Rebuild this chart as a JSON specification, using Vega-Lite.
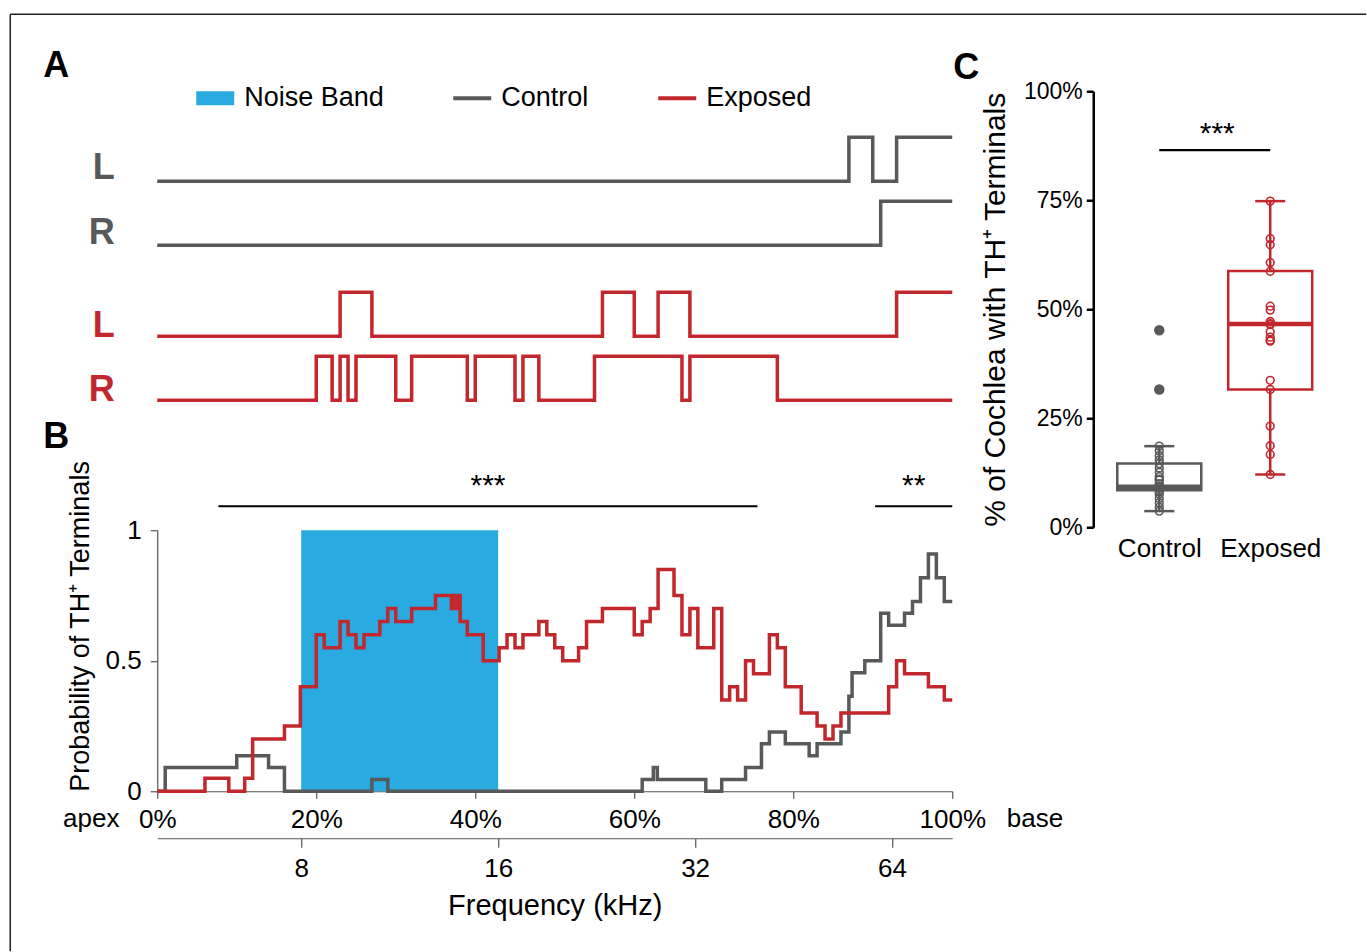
{
  "$schema": "https://vega.github.io/schema/vega-lite/v6.json",
  "background": "white",
  "padding": {"left": 9.25, "top": 13.25, "right": 0, "bottom": 0},
  "bounds": "flush",
  "columns": 2,
  "spacing": {"row": 3, "column": 141},
  "config": {
    "view": {"stroke": null},
    "font": "Liberation Sans",
    "title": {"font": "Liberation Sans", "fontSize": 36, "fontWeight": "bold", "anchor": "start", "frame": "group", "baseline": "alphabetic", "color": "#000"},
    "axis": {"grid": false, "labelColor": "#000", "titleColor": "#000", "titleFontWeight": "normal", "labelFont": "Liberation Sans", "titleFont": "Liberation Sans", "labelFlush": false},
    "legend": {"orient": "none", "legendX": 39, "legendY": -12, "direction": "horizontal", "labelFont": "Liberation Sans", "labelFontSize": 27, "labelColor": "#000", "labelOffset": 10, "symbolSize": 1444, "columnPadding": 69, "symbolStrokeWidth": 0, "symbolOpacity": 1},
    "text": {"font": "Liberation Sans"}
  },
  "concat": [
    {
      "width": 795,
      "height": 319,
      "title": {"text": "A", "dx": -114, "offset": 8, "dy": 2},
      "data": {"values": [
        {"group": "Control", "ear": "L", "pos": 0, "on": 0},
        {"group": "Control", "ear": "L", "pos": 87, "on": 1},
        {"group": "Control", "ear": "L", "pos": 90, "on": 0},
        {"group": "Control", "ear": "L", "pos": 93, "on": 1},
        {"group": "Control", "ear": "L", "pos": 100, "on": 1},
        {"group": "Control", "ear": "R", "pos": 0, "on": 0},
        {"group": "Control", "ear": "R", "pos": 91, "on": 1},
        {"group": "Control", "ear": "R", "pos": 100, "on": 1},
        {"group": "Exposed", "ear": "L", "pos": 0, "on": 0},
        {"group": "Exposed", "ear": "L", "pos": 23, "on": 1},
        {"group": "Exposed", "ear": "L", "pos": 27, "on": 0},
        {"group": "Exposed", "ear": "L", "pos": 56, "on": 1},
        {"group": "Exposed", "ear": "L", "pos": 60, "on": 0},
        {"group": "Exposed", "ear": "L", "pos": 63, "on": 1},
        {"group": "Exposed", "ear": "L", "pos": 67, "on": 0},
        {"group": "Exposed", "ear": "L", "pos": 93, "on": 1},
        {"group": "Exposed", "ear": "L", "pos": 100, "on": 1},
        {"group": "Exposed", "ear": "R", "pos": 0, "on": 0},
        {"group": "Exposed", "ear": "R", "pos": 20, "on": 1},
        {"group": "Exposed", "ear": "R", "pos": 22, "on": 0},
        {"group": "Exposed", "ear": "R", "pos": 23, "on": 1},
        {"group": "Exposed", "ear": "R", "pos": 24, "on": 0},
        {"group": "Exposed", "ear": "R", "pos": 25, "on": 1},
        {"group": "Exposed", "ear": "R", "pos": 30, "on": 0},
        {"group": "Exposed", "ear": "R", "pos": 32, "on": 1},
        {"group": "Exposed", "ear": "R", "pos": 39, "on": 0},
        {"group": "Exposed", "ear": "R", "pos": 40, "on": 1},
        {"group": "Exposed", "ear": "R", "pos": 45, "on": 0},
        {"group": "Exposed", "ear": "R", "pos": 46, "on": 1},
        {"group": "Exposed", "ear": "R", "pos": 48, "on": 0},
        {"group": "Exposed", "ear": "R", "pos": 55, "on": 1},
        {"group": "Exposed", "ear": "R", "pos": 66, "on": 0},
        {"group": "Exposed", "ear": "R", "pos": 67, "on": 1},
        {"group": "Exposed", "ear": "R", "pos": 78, "on": 0},
        {"group": "Exposed", "ear": "R", "pos": 100, "on": 0}
      ]},
      "transform": [
        {"calculate": "(datum.group === 'Control' ? (datum.ear === 'L' ? 229 : 165) : (datum.ear === 'L' ? 74 : 10)) + datum.on * 44", "as": "level"}
      ],
      "mark": {"type": "line", "interpolate": "step-after", "strokeWidth": 3.5},
      "encoding": {
        "x": {"field": "pos", "type": "quantitative", "scale": {"domain": [0, 100], "nice": false, "zero": false}, "axis": null},
        "y": {"field": "level", "type": "quantitative", "scale": {"domain": [0, 319], "nice": false, "zero": false},
          "axis": {"title": null, "values": [243, 178, 85, 21], "labelExpr": "(datum.value == 243 || datum.value == 85) ? 'L' : 'R'",
            "labelColor": {"condition": {"test": "datum.value > 150", "value": "#58595b"}, "value": "#c1272d"},
            "labelFontSize": 36, "labelFontWeight": "bold", "ticks": false, "domain": false, "labelPadding": 43}},
        "color": {"field": "group", "type": "nominal", "scale": {"domain": ["Noise Band", "Control", "Exposed"], "range": ["#29abe2", "#58595b", "#c1272d"]}},
        "detail": {"field": "ear"}
      }
    },
    {
      "width": 243,
      "height": 436,
      "title": {"text": "C", "dx": -140, "offset": 0, "dy": 7},
      "layer": [
        {
          "data": {"values": [
            {"group": "Control", "lower": 3.7, "q1": 8.5, "median": 9.3, "q3": 14.6, "upper": 18.6},
            {"group": "Exposed", "lower": 12.1, "q1": 31.6, "median": 46.6, "q3": 58.8, "upper": 74.8}
          ]},
          "layer": [
            {
              "mark": {"type": "rule", "strokeWidth": 2.5},
              "encoding": {
                "x": {"field": "group", "type": "nominal", "scale": {"type": "point", "domain": ["Control", "Exposed"], "padding": 0.595},
                  "axis": {"title": null, "domain": false, "ticks": false, "labelFontSize": 26, "labelPadding": 8, "labelAngle": 0}},
                "y": {"field": "lower", "type": "quantitative", "scale": {"domain": [0, 100], "nice": false},
                  "axis": {"values": [0, 25, 50, 75, 100], "labelExpr": "datum.value + '%'", "title": "% of Cochlea with TH⁺ Terminals", "titleFontSize": 30, "titlePadding": 13,
                    "labelFontSize": 23, "labelPadding": 4, "tickSize": 7, "tickWidth": 2.5, "domainWidth": 2.5, "domainColor": "#000", "tickColor": "#000"}},
                "y2": {"field": "q1"},
                "color": {"field": "group", "type": "nominal", "scale": {"domain": ["Noise Band", "Control", "Exposed"], "range": ["#29abe2", "#58595b", "#c1272d"]}}
              }
            },
            {
              "mark": {"type": "rule", "strokeWidth": 2.5},
              "encoding": {
                "x": {"field": "group", "type": "nominal"},
                "y": {"field": "q3", "type": "quantitative"},
                "y2": {"field": "upper"},
                "color": {"field": "group", "type": "nominal"}
              }
            },
            {
              "mark": {"type": "tick", "size": 30, "thickness": 2.5, "opacity": 1},
              "encoding": {
                "x": {"field": "group", "type": "nominal"},
                "y": {"field": "lower", "type": "quantitative"},
                "color": {"field": "group", "type": "nominal"}
              }
            },
            {
              "mark": {"type": "tick", "size": 30, "thickness": 2.5, "opacity": 1},
              "encoding": {
                "x": {"field": "group", "type": "nominal"},
                "y": {"field": "upper", "type": "quantitative"},
                "color": {"field": "group", "type": "nominal"}
              }
            },
            {
              "mark": {"type": "bar", "filled": false, "size": 84, "strokeWidth": 2.5},
              "encoding": {
                "x": {"field": "group", "type": "nominal"},
                "y": {"field": "q1", "type": "quantitative"},
                "y2": {"field": "q3"},
                "color": {"field": "group", "type": "nominal"}
              }
            },
            {
              "mark": {"type": "tick", "size": 84, "thickness": 4.5, "opacity": 1},
              "encoding": {
                "x": {"field": "group", "type": "nominal"},
                "y": {"field": "median", "type": "quantitative"},
                "color": {"field": "group", "type": "nominal"}
              }
            }
          ]
        },
        {
          "data": {"values": [
            {"group": "Control", "pct": 45.2, "outlier": true},
            {"group": "Control", "pct": 31.6, "outlier": true},
            {"group": "Control", "pct": 18.6, "outlier": false},
            {"group": "Control", "pct": 17.5, "outlier": false},
            {"group": "Control", "pct": 16.4, "outlier": false},
            {"group": "Control", "pct": 15.4, "outlier": false},
            {"group": "Control", "pct": 14.6, "outlier": false},
            {"group": "Control", "pct": 13.6, "outlier": false},
            {"group": "Control", "pct": 12.6, "outlier": false},
            {"group": "Control", "pct": 11.6, "outlier": false},
            {"group": "Control", "pct": 11.0, "outlier": false},
            {"group": "Control", "pct": 10.8, "outlier": false},
            {"group": "Control", "pct": 10.0, "outlier": false},
            {"group": "Control", "pct": 9.5, "outlier": false},
            {"group": "Control", "pct": 9.1, "outlier": false},
            {"group": "Control", "pct": 8.6, "outlier": false},
            {"group": "Control", "pct": 8.1, "outlier": false},
            {"group": "Control", "pct": 7.6, "outlier": false},
            {"group": "Control", "pct": 6.6, "outlier": false},
            {"group": "Control", "pct": 5.6, "outlier": false},
            {"group": "Control", "pct": 4.6, "outlier": false},
            {"group": "Control", "pct": 3.7, "outlier": false},
            {"group": "Exposed", "pct": 74.8, "outlier": false},
            {"group": "Exposed", "pct": 66.2, "outlier": false},
            {"group": "Exposed", "pct": 64.8, "outlier": false},
            {"group": "Exposed", "pct": 60.7, "outlier": false},
            {"group": "Exposed", "pct": 58.7, "outlier": false},
            {"group": "Exposed", "pct": 50.7, "outlier": false},
            {"group": "Exposed", "pct": 49.8, "outlier": false},
            {"group": "Exposed", "pct": 47.2, "outlier": false},
            {"group": "Exposed", "pct": 46.7, "outlier": false},
            {"group": "Exposed", "pct": 46.5, "outlier": false},
            {"group": "Exposed", "pct": 44.8, "outlier": false},
            {"group": "Exposed", "pct": 43.6, "outlier": false},
            {"group": "Exposed", "pct": 42.9, "outlier": false},
            {"group": "Exposed", "pct": 42.7, "outlier": false},
            {"group": "Exposed", "pct": 33.7, "outlier": false},
            {"group": "Exposed", "pct": 31.6, "outlier": false},
            {"group": "Exposed", "pct": 23.2, "outlier": false},
            {"group": "Exposed", "pct": 18.7, "outlier": false},
            {"group": "Exposed", "pct": 16.7, "outlier": false},
            {"group": "Exposed", "pct": 12.1, "outlier": false}
          ]},
          "layer": [
            {
              "transform": [{"filter": "!datum.outlier"}],
              "mark": {"type": "point", "filled": false, "size": 60, "strokeWidth": 1.6, "opacity": 1},
              "encoding": {
                "x": {"field": "group", "type": "nominal"},
                "y": {"field": "pct", "type": "quantitative"},
                "color": {"field": "group", "type": "nominal"}
              }
            },
            {
              "transform": [{"filter": "datum.outlier"}],
              "mark": {"type": "circle", "size": 110, "opacity": 1},
              "encoding": {
                "x": {"field": "group", "type": "nominal"},
                "y": {"field": "pct", "type": "quantitative"},
                "color": {"field": "group", "type": "nominal"}
              }
            }
          ]
        },
        {
          "data": {"values": [{"from": "Control", "to": "Exposed", "stars": "***"}]},
          "layer": [
            {
              "mark": {"type": "rule", "strokeWidth": 2.2, "color": "#000"},
              "encoding": {
                "x": {"field": "from", "type": "nominal"},
                "x2": {"field": "to"},
                "y": {"datum": 86.5, "type": "quantitative"}
              }
            },
            {
              "mark": {"type": "text", "fontSize": 30, "align": "center", "baseline": "middle", "dx": 58, "color": "#000"},
              "encoding": {
                "x": {"field": "from", "type": "nominal"},
                "y": {"datum": 90.2, "type": "quantitative"},
                "text": {"field": "stars"}
              }
            }
          ]
        }
      ]
    },
    {
      "width": 795,
      "height": 261,
      "title": {"text": "B", "dx": -114, "offset": 2, "dy": -2},
      "layer": [
        {
          "data": {"values": [{"band": "Noise Band", "from_kHz": 8, "to_kHz": 16, "low": 0, "high": 1}]},
          "mark": {"type": "rect"},
          "encoding": {
            "x": {"field": "from_kHz", "type": "quantitative", "scale": {"type": "log", "base": 2, "domain": [4.82, 79.1], "nice": false},
              "axis": {"orient": "bottom", "offset": 47, "values": [8, 16, 32, 64], "format": "d", "title": "Frequency (kHz)", "titleFontSize": 29, "titlePadding": 10,
                "labelFontSize": 26, "labelPadding": 8, "tickSize": 9, "tickColor": "#555", "domainColor": "#555", "tickWidth": 1.2, "domainWidth": 1.2}},
            "x2": {"field": "to_kHz"},
            "y": {"field": "low", "type": "quantitative", "scale": {"domain": [0, 1], "nice": false},
              "axis": {"values": [0, 0.5, 1], "format": "~g", "title": "Probability of TH⁺ Terminals", "titleFontSize": 27, "titleAnchor": "start", "titlePadding": 11,
                "labelFontSize": 26, "labelPadding": 9, "tickSize": 7, "tickColor": "#555", "domainColor": "#555", "tickWidth": 1.2, "domainWidth": 1.2}},
            "y2": {"field": "high"},
            "color": {"field": "band", "type": "nominal", "scale": {"domain": ["Noise Band", "Control", "Exposed"], "range": ["#29abe2", "#58595b", "#c1272d"]},
              "legend": {"title": null, "orient": "none", "legendX": 39, "legendY": -12, "direction": "horizontal",
                "labelFont": "Liberation Sans", "labelFontSize": 27, "labelColor": "#000", "labelOffset": 10,
                "symbolSize": 1444, "columnPadding": 69, "symbolStrokeWidth": 0,
                "encode": {"symbols": {"update": {
                  "shape": {"signal": "datum.value === 'Noise Band' ? 'M-1,-0.37H1V0.37H-1Z' : 'M-1,-0.1H1V0.1H-1Z'"},
                  "fill": {"signal": "scale('color', datum.value)"},
                  "stroke": {"value": "transparent"},
                  "strokeWidth": {"value": 0},
                  "opacity": {"value": 1}
                }}}}}
          }
        },
        {
          "layer": [
            {
              "data": {"values": [
                {"group": "Control", "pos": 0, "prob": 0},
                {"group": "Control", "pos": 1, "prob": 0.0909},
                {"group": "Control", "pos": 10, "prob": 0.1364},
                {"group": "Control", "pos": 14, "prob": 0.0909},
                {"group": "Control", "pos": 16, "prob": 0},
                {"group": "Control", "pos": 27, "prob": 0.0455},
                {"group": "Control", "pos": 29, "prob": 0},
                {"group": "Control", "pos": 61, "prob": 0.0455},
                {"group": "Control", "pos": 62.4, "prob": 0.0909},
                {"group": "Control", "pos": 62.9, "prob": 0.0455},
                {"group": "Control", "pos": 69, "prob": 0},
                {"group": "Control", "pos": 71, "prob": 0.0455},
                {"group": "Control", "pos": 74, "prob": 0.0909},
                {"group": "Control", "pos": 76, "prob": 0.1818},
                {"group": "Control", "pos": 77, "prob": 0.2273},
                {"group": "Control", "pos": 79, "prob": 0.1818},
                {"group": "Control", "pos": 82, "prob": 0.1364},
                {"group": "Control", "pos": 83, "prob": 0.1818},
                {"group": "Control", "pos": 86, "prob": 0.2273},
                {"group": "Control", "pos": 87, "prob": 0.3636},
                {"group": "Control", "pos": 87.4, "prob": 0.4545},
                {"group": "Control", "pos": 89, "prob": 0.5},
                {"group": "Control", "pos": 91, "prob": 0.6818},
                {"group": "Control", "pos": 92, "prob": 0.6364},
                {"group": "Control", "pos": 94, "prob": 0.6818},
                {"group": "Control", "pos": 95, "prob": 0.7273},
                {"group": "Control", "pos": 96, "prob": 0.8182},
                {"group": "Control", "pos": 97, "prob": 0.9091},
                {"group": "Control", "pos": 98, "prob": 0.8182},
                {"group": "Control", "pos": 99, "prob": 0.7273},
                {"group": "Control", "pos": 100, "prob": 0.7273},
                {"group": "Exposed", "pos": 0, "prob": 0},
                {"group": "Exposed", "pos": 6, "prob": 0.05},
                {"group": "Exposed", "pos": 9, "prob": 0},
                {"group": "Exposed", "pos": 11, "prob": 0.05},
                {"group": "Exposed", "pos": 12, "prob": 0.2},
                {"group": "Exposed", "pos": 16, "prob": 0.25},
                {"group": "Exposed", "pos": 18, "prob": 0.4},
                {"group": "Exposed", "pos": 20, "prob": 0.6},
                {"group": "Exposed", "pos": 21, "prob": 0.55},
                {"group": "Exposed", "pos": 23, "prob": 0.65},
                {"group": "Exposed", "pos": 24, "prob": 0.6},
                {"group": "Exposed", "pos": 25, "prob": 0.55},
                {"group": "Exposed", "pos": 26, "prob": 0.6},
                {"group": "Exposed", "pos": 28, "prob": 0.65},
                {"group": "Exposed", "pos": 29, "prob": 0.7},
                {"group": "Exposed", "pos": 30, "prob": 0.65},
                {"group": "Exposed", "pos": 32, "prob": 0.7},
                {"group": "Exposed", "pos": 35, "prob": 0.75},
                {"group": "Exposed", "pos": 37, "prob": 0.7},
                {"group": "Exposed", "pos": 37.3, "prob": 0.75},
                {"group": "Exposed", "pos": 37.6, "prob": 0.7},
                {"group": "Exposed", "pos": 37.9, "prob": 0.75},
                {"group": "Exposed", "pos": 38.1, "prob": 0.65},
                {"group": "Exposed", "pos": 39, "prob": 0.6},
                {"group": "Exposed", "pos": 41, "prob": 0.5},
                {"group": "Exposed", "pos": 43, "prob": 0.55},
                {"group": "Exposed", "pos": 44, "prob": 0.6},
                {"group": "Exposed", "pos": 45, "prob": 0.55},
                {"group": "Exposed", "pos": 46, "prob": 0.6},
                {"group": "Exposed", "pos": 48, "prob": 0.65},
                {"group": "Exposed", "pos": 49, "prob": 0.6},
                {"group": "Exposed", "pos": 50, "prob": 0.55},
                {"group": "Exposed", "pos": 51, "prob": 0.5},
                {"group": "Exposed", "pos": 53, "prob": 0.55},
                {"group": "Exposed", "pos": 54, "prob": 0.65},
                {"group": "Exposed", "pos": 56, "prob": 0.7},
                {"group": "Exposed", "pos": 60, "prob": 0.6},
                {"group": "Exposed", "pos": 61, "prob": 0.65},
                {"group": "Exposed", "pos": 62, "prob": 0.7},
                {"group": "Exposed", "pos": 63, "prob": 0.85},
                {"group": "Exposed", "pos": 65, "prob": 0.75},
                {"group": "Exposed", "pos": 66, "prob": 0.6},
                {"group": "Exposed", "pos": 67, "prob": 0.7},
                {"group": "Exposed", "pos": 68, "prob": 0.55},
                {"group": "Exposed", "pos": 70, "prob": 0.7},
                {"group": "Exposed", "pos": 71, "prob": 0.35},
                {"group": "Exposed", "pos": 72, "prob": 0.4},
                {"group": "Exposed", "pos": 73, "prob": 0.35},
                {"group": "Exposed", "pos": 74, "prob": 0.5},
                {"group": "Exposed", "pos": 75, "prob": 0.45},
                {"group": "Exposed", "pos": 77, "prob": 0.6},
                {"group": "Exposed", "pos": 78, "prob": 0.55},
                {"group": "Exposed", "pos": 79, "prob": 0.4},
                {"group": "Exposed", "pos": 81, "prob": 0.3},
                {"group": "Exposed", "pos": 83, "prob": 0.25},
                {"group": "Exposed", "pos": 84, "prob": 0.2},
                {"group": "Exposed", "pos": 85, "prob": 0.25},
                {"group": "Exposed", "pos": 86, "prob": 0.3},
                {"group": "Exposed", "pos": 92, "prob": 0.4},
                {"group": "Exposed", "pos": 93, "prob": 0.5},
                {"group": "Exposed", "pos": 94, "prob": 0.45},
                {"group": "Exposed", "pos": 97, "prob": 0.4},
                {"group": "Exposed", "pos": 99, "prob": 0.35},
                {"group": "Exposed", "pos": 100, "prob": 0.35}
              ]},
              "mark": {"type": "line", "interpolate": "step-after", "strokeWidth": 3.5},
              "encoding": {
                "x": {"field": "pos", "type": "quantitative", "scale": {"domain": [0, 100], "nice": false, "zero": false},
                  "axis": {"orient": "bottom", "values": [0, 20, 40, 60, 80, 100], "labelExpr": "datum.value + '%'", "title": null, "labelFlush": false,
                    "labelFontSize": 26, "labelPadding": 8, "tickSize": 7, "tickColor": "#555", "domainColor": "#555", "tickWidth": 1.2, "domainWidth": 1.2}},
                "y": {"field": "prob", "type": "quantitative"},
                "color": {"field": "group", "type": "nominal"}
              }
            },
            {
              "data": {"values": [{"from": 7.7, "to": 75.5, "stars": "***"}, {"from": 90.3, "to": 100, "stars": "**"}]},
              "mark": {"type": "rule", "strokeWidth": 2.2, "color": "#000"},
              "encoding": {
                "x": {"field": "from", "type": "quantitative"},
                "x2": {"field": "to"},
                "y": {"datum": 1.092, "type": "quantitative"}
              }
            },
            {
              "data": {"values": [{"from": 7.7, "to": 75.5, "stars": "***"}, {"from": 90.3, "to": 100, "stars": "**"}]},
              "transform": [{"calculate": "(datum.from + datum.to) / 2", "as": "mid"}],
              "mark": {"type": "text", "fontSize": 30, "align": "center", "baseline": "middle", "color": "#000"},
              "encoding": {
                "x": {"field": "mid", "type": "quantitative"},
                "y": {"datum": 1.17, "type": "quantitative"},
                "text": {"field": "stars"}
              }
            },
            {
              "data": {"values": [{"label": "apex"}]},
              "mark": {"type": "text", "fontSize": 26, "align": "center", "baseline": "middle", "color": "#000"},
              "encoding": {
                "x": {"datum": -8.3, "type": "quantitative"},
                "y": {"datum": -0.105, "type": "quantitative"},
                "text": {"field": "label"}
              }
            },
            {
              "data": {"values": [{"label": "base"}]},
              "mark": {"type": "text", "fontSize": 26, "align": "center", "baseline": "middle", "color": "#000"},
              "encoding": {
                "x": {"datum": 110.4, "type": "quantitative"},
                "y": {"datum": -0.105, "type": "quantitative"},
                "text": {"field": "label"}
              }
            }
          ]
        }
      ],
      "resolve": {"scale": {"x": "independent"}, "axis": {"x": "independent"}}
    },
    {
      "width": 243,
      "height": 261,
      "data": {"values": [{"edge": "frame"}]},
      "layer": [
        {
          "mark": {"type": "rule", "strokeWidth": 1.5, "color": "#222"},
          "encoding": {
            "x": {"datum": -1083, "type": "quantitative", "scale": {"domain": [0, 243], "nice": false, "zero": false}, "axis": null},
            "x2": {"datum": 273},
            "y": {"datum": 777, "type": "quantitative", "scale": {"domain": [0, 261], "nice": false, "zero": false}, "axis": null}
          }
        },
        {
          "mark": {"type": "rule", "strokeWidth": 1.5, "color": "#222"},
          "encoding": {
            "x": {"datum": -1083, "type": "quantitative", "scale": {"domain": [0, 243], "nice": false, "zero": false}, "axis": null},
            "y": {"datum": 777, "type": "quantitative", "scale": {"domain": [0, 261], "nice": false, "zero": false}, "axis": null},
            "y2": {"datum": -160}
          }
        }
      ]
    }
  ]
}
